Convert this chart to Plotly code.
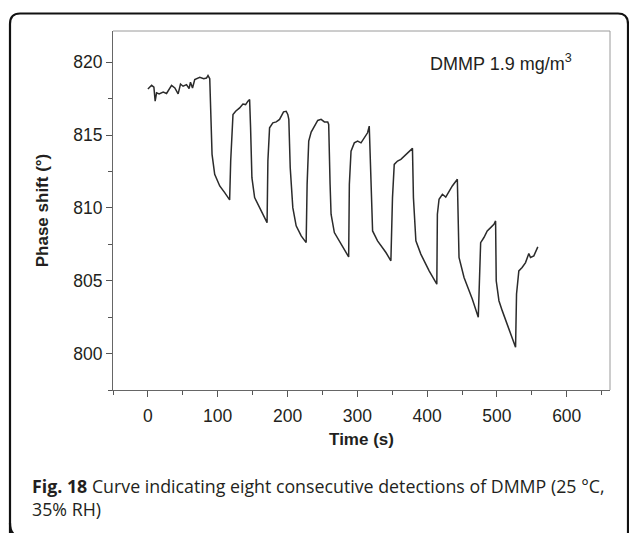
import plotly.graph_objects as go

# ---- data ----
time_s = [0, 5.3, 8.6, 10.4, 12.4, 16.1, 21.9, 26.7, 33.9, 38.6, 43.3, 46.7, 50.4, 55.3, 59.0, 61.0, 63.9,
          67.1, 74.3, 80.0, 83.9, 86.1, 88.6,
          90.0, 91.9, 95.7, 102.9, 110.0, 117.1,
          118.6, 121.9, 125.7, 131.4, 136.1, 140.0, 143.3, 145.7,
          147.1, 149.0, 152.9, 160.0, 167.1, 170.7,
          171.9, 174.3, 179.0, 183.9, 188.6, 191.0, 194.3, 198.1, 200.4, 201.9,
          203.9, 207.6, 212.4, 219.6, 226.7,
          228.1, 230.4, 233.9, 238.6, 243.3, 248.1, 252.9, 257.6, 259.0,
          261.0, 262.4, 267.1, 276.7, 287.6,
          288.6, 291.0, 295.7, 300.4, 305.3, 310.0, 314.7, 317.1,
          318.6, 321.9, 329.0, 341.0, 348.1,
          350.4, 352.9, 357.6, 362.4, 367.1, 374.3, 379.0,
          380.4, 383.9, 391.0, 402.9, 413.9,
          414.7, 417.1, 421.9, 426.7, 431.4, 436.1, 443.3,
          444.3, 445.7, 452.9, 464.7, 473.3,
          475.3, 476.7, 481.4, 486.1, 491.0, 495.7, 498.1,
          499.0, 502.9, 507.6, 526.7,
          528.1, 531.4, 536.1, 541.0, 545.7, 548.1, 552.9, 558.6]
phase_deg = [818.17, 818.42, 818.29, 817.33, 817.90, 817.83, 817.95, 817.86, 818.42, 818.24, 817.83, 818.51,
             818.36, 818.47, 818.20, 818.63, 818.24, 818.82, 818.97, 818.88, 818.92, 819.09, 818.88,
             816.64, 813.68, 812.31, 811.51, 811.05, 810.55,
             813.22, 816.42, 816.64, 816.87, 817.14, 817.10, 817.33, 817.45,
             815.50, 812.08, 810.71, 810.02, 809.34, 808.99,
             813.22, 815.50, 815.84, 815.91, 816.08, 816.30, 816.60, 816.64, 816.42, 816.08,
             812.76, 810.02, 808.77, 808.08, 807.62,
             811.62, 814.59, 815.21, 815.62, 816.01, 816.08, 815.91, 815.91, 815.73,
             811.62, 809.57, 808.31, 807.51, 806.64,
             811.62, 813.90, 814.47, 814.59, 814.47, 814.86, 815.16, 815.62,
             812.76, 808.42, 807.74, 806.94, 806.37,
             810.71, 812.99, 813.22, 813.34, 813.56, 813.90, 814.09,
             810.71, 807.74, 806.83, 805.68, 804.77,
             809.57, 810.60, 810.94, 810.75, 811.16, 811.51, 811.97,
             809.57, 806.60, 805.23, 803.75, 802.49,
             805.68, 807.62, 807.97, 808.42, 808.65, 808.88, 809.11,
             805.00, 803.63, 802.95, 800.43,
             804.09, 805.68, 805.91, 806.25, 806.87, 806.60, 806.71, 807.33]

x_ticks = [0, 100, 200, 300, 400, 500, 600]
y_ticks = [800, 805, 810, 815, 820]
x_title = "Time (s)"
y_title = "Phase shift (°)"
label_text = "DMMP 1.9 mg/m<sup>3</sup>"
caption_text = ("<b>Fig. 18</b> Curve indicating eight consecutive detections of DMMP (25 °C,"
                "<br>35% RH)")

W, H = 629, 533
L, R, T, B = 113, 19, 31, 143
PW, PH = W - L - R, H - T - B


def px(x):
    return (x - L) / PW


def py(y):
    return (H - B - y) / PH


fig = go.Figure()
fig.add_trace(go.Scatter(x=time_s, y=phase_deg, mode="lines",
                         line=dict(color="#2b2b2b", width=1.5), showlegend=False,
                         hoverinfo="skip"))

axis_font = dict(family="Liberation Sans, Arial, sans-serif", size=17.5, color="#231f20")
title_font = dict(family="Liberation Sans, Arial, sans-serif", size=17, color="#231f20")

fig.update_layout(
    width=W, height=H,
    margin=dict(l=L, r=R, t=T, b=B),
    paper_bgcolor="white", plot_bgcolor="white",
    xaxis=dict(range=[-50, 662], tickvals=x_ticks, ticks="outside", ticklen=6, tickwidth=1,
               tickcolor="#555", showline=True, linecolor="#666", linewidth=1,
               showgrid=False, zeroline=False, tickfont=axis_font, ticklabelstandoff=4,
               minor=dict(dtick=50, tick0=-50, ticks="outside", ticklen=4, tickcolor="#555"),
               title=dict(text="<b>" + x_title + "</b>", font=title_font, standoff=8)),
    yaxis=dict(range=[797.5, 822.15], tickvals=y_ticks, ticks="outside", ticklen=6, tickwidth=1,
               tickcolor="#555", showline=True, linecolor="#666", linewidth=1,
               showgrid=False, zeroline=False, tickfont=axis_font,
               minor=dict(dtick=2.5, tick0=797.5, ticks="outside", ticklen=4, tickcolor="#555"),
               title=dict(text="<b>" + y_title + "</b>", font=title_font, standoff=20)),
)

# top and right border of the plot box
fig.add_shape(type="line", xref="paper", yref="paper", x0=0, x1=1, y0=1, y1=1,
              line=dict(color="#9a9a9a", width=1))
fig.add_shape(type="line", xref="paper", yref="paper", x0=1, x1=1, y0=0, y1=1,
              line=dict(color="#9a9a9a", width=1))

# outer rounded frame
path = (f"M {px(10)},{py(545)} L {px(10)},{py(24)} Q {px(10)},{py(13.5)} {px(20)},{py(13.5)} "
        f"L {px(618)},{py(13.5)} Q {px(628)},{py(13.5)} {px(628)},{py(24)} L {px(628)},{py(545)}")
fig.add_shape(type="path", xref="paper", yref="paper", path=path,
              line=dict(color="#111", width=2.2), layer="above")
path2 = (f"M {px(10)},{py(523)} Q {px(10)},{py(537)} {px(22)},{py(537)} L {px(618)},{py(537)}")
fig.add_shape(type="path", xref="paper", yref="paper", path=path2,
              line=dict(color="#111", width=2.2), layer="above")

fig.add_annotation(text=label_text, xref="paper", yref="paper", x=px(574), y=py(62),
                   xanchor="right", yanchor="middle", showarrow=False,
                   font=dict(family="Liberation Sans, Arial, sans-serif", size=18, color="#231f20"))

cap_font = dict(family="Open Sans, Noto Sans, sans-serif", size=17.8, color="#231f20")
fig.add_annotation(text=caption_text, xref="paper", yref="paper", x=px(30), y=py(497),
                   xanchor="left", yanchor="middle", align="left", showarrow=False, font=cap_font)

fig.write_html("out.html", config={"displayModeBar": False},
               post_script="document.body.style.margin='0px';document.body.style.overflow='hidden';")
